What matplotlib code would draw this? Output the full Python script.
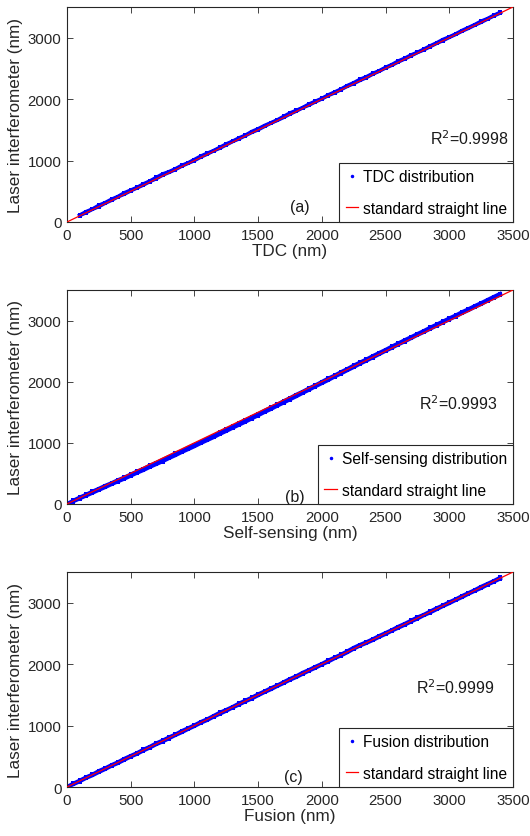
import matplotlib
matplotlib.use("Agg")
import matplotlib.pyplot as plt

plt.rcParams["font.family"] = ["Liberation Sans", "DejaVu Sans"]

# sensor readings (nm), one sample every 50 nm of stage travel
sensor_nm = [0, 50, 100, 150, 200, 250, 300, 350, 400, 450,
             500, 550, 600, 650, 700, 750, 800, 850, 900, 950,
             1000, 1050, 1100, 1150, 1200, 1250, 1300, 1350, 1400, 1450,
             1500, 1550, 1600, 1650, 1700, 1750, 1800, 1850, 1900, 1950,
             2000, 2050, 2100, 2150, 2200, 2250, 2300, 2350, 2400, 2450,
             2500, 2550, 2600, 2650, 2700, 2750, 2800, 2850, 2900, 2950,
             3000, 3050, 3100, 3150, 3200, 3250, 3300, 3350, 3400]

# laser minus sensor (nm), forward and backward sweeps
# TDC record starts at 100 nm
tdc_err_up = [12, 18, 10, 22, 15, 20, 14, 25, 18, 12,
              20, 16, 24, 30, 18, 14, 20, 12, 16, 22,
              18, 10, 15, 20, 14, 18, 12, 22, 16, 20,
              14, 10, 18, 24, 16, 12, 20, 15, 10, 18,
              14, 12, 20, 16, 22, 14, 18, 10, 16, 12,
              20, 14, 18, 10, 12, 16, 14, 20, 12, 10,
              16, 14, 12, 18, 10, 14, 12]
tdc_err_down = [5, 2, 8, 0, 6, 4, 10, 3, 7, 5,
                2, 8, 4, 12, 6, 3, 9, 5, 0, 7,
                4, 8, 2, 6, 10, 3, 5, 8, 1, 6,
                9, 4, 2, 7, 5, 10, 3, 6, 4, 8,
                2, 6, 9, 3, 5, 0, 7, 4, 8, 2,
                6, 3, 5, 9, 1, 4, 7, 2, 5, 3,
                6, 2, 4, 0, 3, 5, 2]

self_err_up = [2, 8, 9, 5, 6, 2, 1, -6, -7, -14,
               -15, -16, -22, -19, -25, -25, -27, -24, -31, -29,
               -29, -33, -31, -33, -29, -31, -33, -28, -29, -27,
               -27, -22, -22, -22, -17, -16, -10, -11, -6, -6,
               -1, 4, 3, 9, 10, 17, 17, 17, 22, 23,
               23, 28, 29, 32, 31, 33, 32, 36, 36, 36,
               38, 36, 40, 38, 40, 38, 40, 41, 40]
self_err_down = [-2, -10, -13, -17, -21, -23, -28, -29, -34, -40,
                 -42, -43, -49, -48, -52, -56, -54, -57, -55, -58,
                 -60, -58, -60, -62, -58, -60, -58, -58, -59, -55,
                 -54, -50, -51, -47, -46, -42, -42, -37, -35, -30,
                 -28, -27, -21, -20, -16, -15, -9, -9, -6, -3,
                 1, 1, 6, 5, 8, 11, 9, 12, 12, 15,
                 16, 14, 18, 16, 18, 16, 20, 19, 19]

fusion_err_up = [4, 10, 8, 12, 6, 14, 9, 11, 7, 13,
                 10, 6, 12, 8, 14, 9, 11, 7, 13, 10,
                 8, 12, 6, 10, 14, 9, 7, 12, 10, 8,
                 13, 9, 11, 6, 10, 12, 8, 14, 9, 11,
                 7, 12, 10, 8, 13, 20, 18, 11, 9, 12,
                 10, 8, 13, 9, 11, 14, 7, 10, 12, 9,
                 11, 8, 12, 10, 9, 13, 10, 8, 11]
fusion_err_down = [-2, -8, -10, -6, -12, -9, -11, -7, -13, -10,
                   -8, -12, -9, -11, -7, -13, -10, -8, -12, -9,
                   -11, -7, -13, -9, -10, -12, -8, -11, -9, -13,
                   -10, -8, -12, -9, -11, -7, -13, -10, -8, -12,
                   -9, -11, -7, -12, -10, -2, 0, -8, -11, -9,
                   -12, -8, -10, -13, -9, -11, -7, -12, -10, -8,
                   -11, -9, -12, -8, -10, -13, -9, -11, -10]

panels = [
    ("TDC", sensor_nm[2:], tdc_err_up, tdc_err_down, "0.9998", "(a)"),
    ("Self-sensing", sensor_nm, self_err_up, self_err_down, "0.9993", "(b)"),
    ("Fusion", sensor_nm, fusion_err_up, fusion_err_down, "0.9999", "(c)"),
]
ref_line = [0, 3500]
ticks = [0, 500, 1000, 1500, 2000, 2500, 3000, 3500]

# axes boxes in figure fractions
boxes = [[0.1264, 0.7336, 0.8415, 0.2569],
         [0.1264, 0.3967, 0.8415, 0.2557],
         [0.1264, 0.0585, 0.8415, 0.2569]]
r2_pos = [(0.814, 0.39), (0.789, 0.472), (0.782, 0.465)]
tag_pos = [(0.522, 0.074), (0.511, 0.037), (0.507, 0.047)]

fig = plt.figure(figsize=(5.3, 8.37), dpi=100)

for i, (name, xs, err_up, err_down, r2, tag) in enumerate(panels):
    ax = fig.add_axes(boxes[i])
    for errs in (err_up, err_down):
        ys = [x + e for x, e in zip(xs, errs)]
        ax.plot(xs, ys, "-", color="blue", lw=2.6, zorder=2)
        ax.plot(xs, ys, "s", color="blue", ms=3.0, mew=0, zorder=2)
    dist, = ax.plot([], [], ".", color="blue", ms=3)
    line, = ax.plot(ref_line, ref_line, "-", color="red", lw=0.9, zorder=3)

    ax.set_xlim(0, 3500)
    ax.set_ylim(0, 3500)
    ax.set_xticks(ticks)
    ax.set_yticks([0, 1000, 2000, 3000])
    ax.tick_params(direction="in", length=4, width=0.6, labelsize=10.8,
                   top=True, right=True, pad=4, colors="#262626")
    for sp in ax.spines.values():
        sp.set_linewidth(0.8)
        sp.set_color("#262626")
    ax.set_xlabel(name + " (nm)", fontsize=12.3, labelpad=1, color="#262626")
    ax.set_ylabel("Laser interferometer (nm)", fontsize=12.3, labelpad=3,
                  color="#262626")

    ax.text(r2_pos[i][0], r2_pos[i][1], "R$^2$=" + r2, transform=ax.transAxes,
            fontsize=11.5, va="center", ha="left", color="#1a1a1a")
    ax.text(tag_pos[i][0], tag_pos[i][1], tag, transform=ax.transAxes,
            fontsize=11.5, va="center", ha="center", color="#1a1a1a")

    leg = ax.legend([dist, line], [name + " distribution", "standard straight line"],
                    loc="lower right", borderaxespad=0, fontsize=11.2,
                    handlelength=0.8, handletextpad=0.3, labelspacing=1.05,
                    borderpad=0.4, fancybox=False, framealpha=1,
                    edgecolor="#262626")
    leg.get_frame().set_linewidth(0.8)

fig.savefig("out.png", dpi=100)
